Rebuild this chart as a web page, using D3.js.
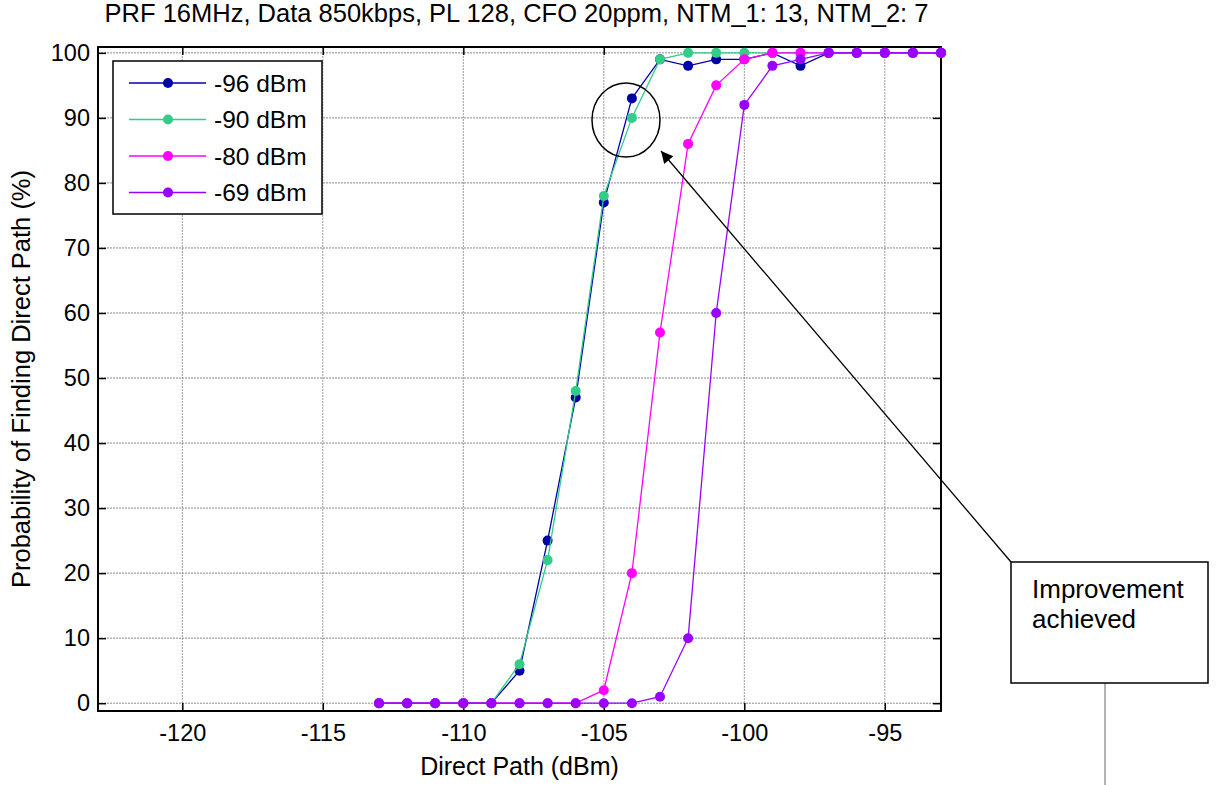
<!DOCTYPE html>
<html>
<head>
<meta charset="utf-8">
<script src="https://cdn.jsdelivr.net/npm/d3@7"></script>
<style>
  html, body { margin: 0; padding: 0; background: #fff; }
  svg { display: block; font-family: "Liberation Sans", Arial, sans-serif; }
</style>
</head>
<body>
<svg id="chart" width="1216" height="785"></svg>
<script>
// ---- data ----
const title = "PRF 16MHz, Data 850kbps, PL 128, CFO 20ppm, NTM_1: 13, NTM_2: 7";
const xLabel = "Direct Path (dBm)";
const yLabel = "Probability of Finding Direct Path (%)";
const directPath = [-113, -112, -111, -110, -109, -108, -107, -106, -105, -104, -103, -102, -101, -100, -99, -98, -97, -96, -95, -94, -93];
const seriesNames = ["-96 dBm", "-90 dBm", "-80 dBm", "-69 dBm"];
const probM96 = [0, 0, 0, 0, 0, 5, 25, 47, 77, 93, 99, 98, 99, 99, 100, 98, 100, 100, 100, 100, 100];
const probM90 = [0, 0, 0, 0, 0, 6, 22, 48, 78, 90, 99, 100, 100, 100, 100, 100, 100, 100, 100, 100, 100];
const probM80 = [0, 0, 0, 0, 0, 0, 0, 0, 2, 20, 57, 86, 95, 99, 100, 100, 100, 100, 100, 100, 100];
const probM69 = [0, 0, 0, 0, 0, 0, 0, 0, 0, 0, 1, 10, 60, 92, 98, 99, 100, 100, 100, 100, 100];
const xTicks = [-120, -115, -110, -105, -100, -95];
const yTicks = [0, 10, 20, 30, 40, 50, 60, 70, 80, 90, 100];
const annotationText = ["Improvement", "achieved"];

const colors = ["#0000a8", "#33cc88", "#ff00ff", "#9900ff"];
const seriesValues = [probM96, probM90, probM80, probM69];

// ---- layout ----
const svg = d3.select("#chart");
const L = 98, R = 941, T = 47, B = 711;
const x = d3.scaleLinear().domain([-123, -93]).range([L, R]);
const y = d3.scaleLinear().domain([-1.2, 100.9]).range([B, T]);
const tickFont = 23.5;
const fmt = d => String(d);

// grid
const grid = svg.append("g");
grid.selectAll("line.vg").data(xTicks).join("line")
  .attr("x1", d => x(d)).attr("x2", d => x(d)).attr("y1", T).attr("y2", B)
  .attr("stroke", "#9a9a9a").attr("stroke-width", 1).attr("stroke-dasharray", "2,1");
grid.selectAll("line.hg").data(yTicks).join("line")
  .attr("x1", L).attr("x2", R).attr("y1", d => y(d)).attr("y2", d => y(d))
  .attr("stroke", "#8a8a8a").attr("stroke-width", 1).attr("stroke-dasharray", "2,1");

// axes (ticks inside)
const axB = svg.append("g").attr("transform", `translate(0,${B})`)
  .call(d3.axisBottom(x).tickValues(xTicks).tickFormat(fmt).tickSize(-8).tickPadding(13).tickSizeOuter(0));
const axT = svg.append("g").attr("transform", `translate(0,${T})`)
  .call(d3.axisTop(x).tickValues(xTicks).tickSize(-8).tickFormat("").tickSizeOuter(0));
const axL = svg.append("g").attr("transform", `translate(${L},0)`)
  .call(d3.axisLeft(y).tickValues(yTicks).tickFormat(fmt).tickSize(-8).tickPadding(8).tickSizeOuter(0));
const axR = svg.append("g").attr("transform", `translate(${R},0)`)
  .call(d3.axisRight(y).tickValues(yTicks).tickSize(-8).tickFormat("").tickSizeOuter(0));
[axB, axT, axL, axR].forEach(a => {
  a.selectAll(".domain").remove();
  a.selectAll(".tick line").attr("stroke", "#000").attr("stroke-width", 1.5);
  a.selectAll("text").attr("font-size", tickFont).attr("font-family", "Liberation Sans, Arial, sans-serif").attr("fill", "#000");
});
axB.selectAll("text").attr("dy", "0.71em");

// box
svg.append("rect").attr("x", L).attr("y", T).attr("width", R - L).attr("height", B - T)
  .attr("fill", "none").attr("stroke", "#000").attr("stroke-width", 2);

// series
const line = d3.line().x((d, i) => x(directPath[i])).y(d => y(d));
seriesValues.forEach((vals, si) => {
  const g = svg.append("g");
  g.append("path").datum(vals).attr("d", line).attr("fill", "none")
    .attr("stroke", colors[si]).attr("stroke-width", 1.3);
  g.selectAll("circle").data(vals).join("circle")
    .attr("cx", (d, i) => x(directPath[i])).attr("cy", d => y(d)).attr("r", 5)
    .attr("fill", colors[si]);
});

// legend
const lg = svg.append("g");
lg.append("rect").attr("x", 113).attr("y", 61).attr("width", 209).attr("height", 153)
  .attr("fill", "#fff").attr("stroke", "#000").attr("stroke-width", 1.5);
seriesNames.forEach((name, i) => {
  const yy = 83 + i * 36.5;
  lg.append("line").attr("x1", 129).attr("x2", 206).attr("y1", yy).attr("y2", yy)
    .attr("stroke", colors[i]).attr("stroke-width", 1.3);
  lg.append("circle").attr("cx", 168).attr("cy", yy).attr("r", 5).attr("fill", colors[i]);
  lg.append("text").attr("x", 214).attr("y", yy).attr("dy", "0.35em")
    .attr("font-size", 24.5).text(name);
});

// title & axis labels
svg.append("text").attr("x", (L + R) / 2 - 3).attr("y", 22).attr("text-anchor", "middle")
  .attr("font-size", 25.5).text(title);
svg.append("text").attr("x", (L + R) / 2).attr("y", 775).attr("text-anchor", "middle")
  .attr("font-size", 25).text(xLabel);
svg.append("text").attr("transform", `translate(30,${(T + B) / 2}) rotate(-90)`)
  .attr("text-anchor", "middle").attr("font-size", 25.5).text(yLabel);

// annotation
const defs = svg.append("defs");
defs.append("marker").attr("id", "arrow").attr("viewBox", "0 0 10 10")
  .attr("refX", 10).attr("refY", 5).attr("markerWidth", 18).attr("markerHeight", 12)
  .attr("markerUnits", "userSpaceOnUse").attr("orient", "auto")
  .append("path").attr("d", "M0,0 L10,5 L0,10 z").attr("fill", "#000");
svg.append("ellipse").attr("cx", 626).attr("cy", 120).attr("rx", 34).attr("ry", 37)
  .attr("fill", "none").attr("stroke", "#000").attr("stroke-width", 1.5);
svg.append("line").attr("x1", 1011).attr("y1", 562).attr("x2", 661).attr("y2", 151)
  .attr("stroke", "#000").attr("stroke-width", 1.3).attr("marker-end", "url(#arrow)");
svg.append("line").attr("x1", 1105).attr("y1", 683).attr("x2", 1105).attr("y2", 785)
  .attr("stroke", "#666").attr("stroke-width", 1);
svg.append("rect").attr("x", 1011).attr("y", 562).attr("width", 197).attr("height", 121)
  .attr("fill", "#fff").attr("stroke", "#000").attr("stroke-width", 1.5);
annotationText.forEach((t, i) => {
  svg.append("text").attr("x", 1032).attr("y", 598 + i * 30).attr("font-size", 26).text(t);
});
</script>
</body>
</html>
